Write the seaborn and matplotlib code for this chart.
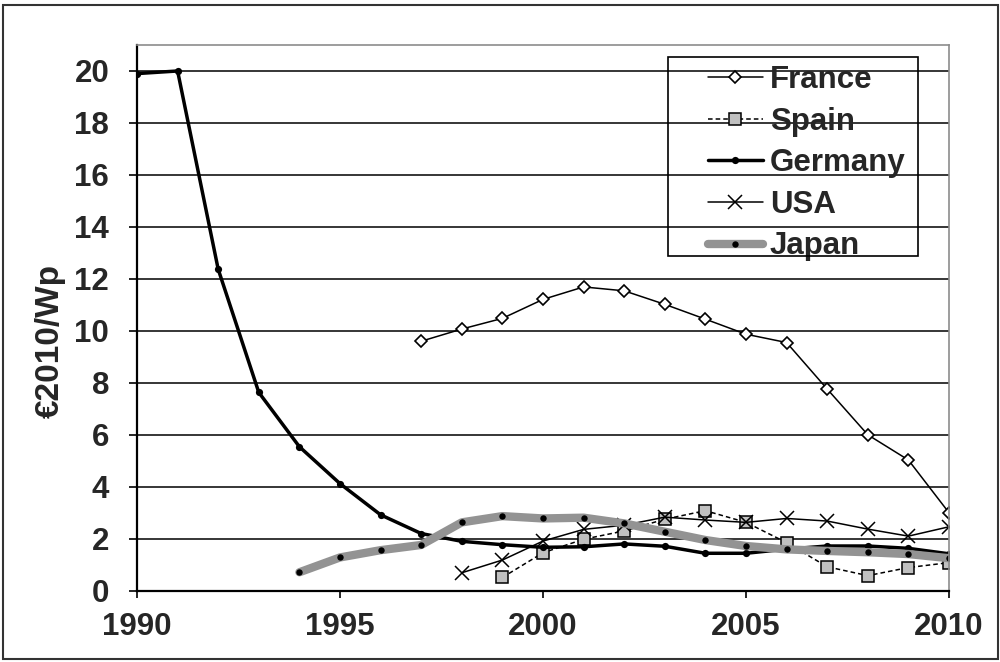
# PV system prices by country, 1990-2010

import seaborn as sns
import pandas as pd
import matplotlib.pyplot as plt
from matplotlib.patches import Rectangle

# data
france_years = [1997, 1998, 1999, 2000, 2001, 2002, 2003, 2004, 2005, 2006, 2007, 2008, 2009, 2010]
france = [9.6, 10.07, 10.48, 11.21, 11.69, 11.54, 11.02, 10.45, 9.87, 9.55, 7.76, 6.0, 5.03, 3.0]

spain_years = [1999, 2000, 2001, 2002, 2003, 2004, 2005, 2006, 2007, 2008, 2009, 2010]
spain = [0.51, 1.46, 1.98, 2.3, 2.75, 3.08, 2.63, 1.85, 0.92, 0.58, 0.89, 1.08]

germany_years = list(range(1990, 2011))
germany = [19.9, 20.0, 12.37, 7.63, 5.54, 4.12, 2.92, 2.2, 1.9, 1.77, 1.67, 1.69, 1.8,
           1.71, 1.44, 1.44, 1.6, 1.72, 1.72, 1.63, 1.42]

usa_years = [1998, 1999, 2000, 2001, 2002, 2003, 2004, 2005, 2006, 2007, 2008, 2009, 2010]
usa = [0.69, 1.18, 1.91, 2.36, 2.52, 2.83, 2.72, 2.63, 2.78, 2.68, 2.37, 2.1, 2.46]

japan_years = list(range(1994, 2011))
japan = [0.71, 1.28, 1.56, 1.76, 2.63, 2.87, 2.78, 2.81, 2.59, 2.27, 1.95, 1.72, 1.59,
         1.53, 1.48, 1.41, 1.25]

sns.set_style("white")
plt.rcParams['font.family'] = ['Liberation Sans', 'DejaVu Sans']
plt.rcParams['font.weight'] = 'bold'

fig = plt.figure(figsize=(10, 6.62), dpi=100)
ax = fig.add_axes([0.137, 1 - 590.7 / 662, 0.812, 545.7 / 662])

# series, in the order the original draws them
sns.lineplot(x=france_years, y=france, ax=ax, color='black', linewidth=1.1,
             marker='D', markersize=6.2, markerfacecolor='white',
             markeredgecolor='black', markeredgewidth=1.2, label='France')
sns.lineplot(x=spain_years, y=spain, ax=ax, color='black', linewidth=1.1,
             linestyle=(0, (3, 2)), marker='s', markersize=8.5,
             markerfacecolor='#c0c0c0', markeredgecolor='black',
             markeredgewidth=1.1, label='Spain')
sns.lineplot(x=germany_years, y=germany, ax=ax, color='black', linewidth=2.5,
             marker='o', markersize=5.2, markeredgewidth=0, label='Germany')
sns.lineplot(x=usa_years, y=usa, ax=ax, color='black', linewidth=1.1,
             marker='x', markersize=9.5, markeredgecolor='black',
             markeredgewidth=1.1, label='USA')
sns.lineplot(x=japan_years, y=japan, ax=ax, color='#939393', linewidth=6,
             marker='o', markersize=4.6, markerfacecolor='black',
             markeredgewidth=0, label='Japan')

ax.set_xlim(1990, 2010)
ax.set_ylim(0, 21)
ax.set_xticks([1990, 1995, 2000, 2005, 2010])
ax.set_yticks(range(0, 21, 2))
ax.yaxis.grid(True, color='black', linewidth=1.1)
ax.set_axisbelow(True)

for side in ['left', 'bottom']:
    ax.spines[side].set_color('black')
    ax.spines[side].set_linewidth(1.6)
for side in ['top', 'right']:
    ax.spines[side].set_color('#8c8c8c')
    ax.spines[side].set_linewidth(1.2)

ax.tick_params(axis='y', direction='out', length=6, width=1.2, color='black',
               pad=14, labelsize=22.5)
ax.tick_params(axis='x', direction='out', length=5, width=1.2, color='black',
               pad=10, labelsize=22.5)
ax.tick_params(left=True, bottom=True)
for lab in ax.get_xticklabels() + ax.get_yticklabels():
    lab.set_fontweight('bold')

ax.set_xlabel('')
ax.set_ylabel('€2010/Wp', fontsize=24, fontweight='bold')
ax.yaxis.set_label_coords(-0.088, 0.458)

# legend, with a separate box around it
handles, labels = ax.get_legend_handles_labels()
leg = ax.legend(handles, labels, loc='upper left', bbox_to_anchor=(0.703, 0.963),
                frameon=False, fontsize=22.5, borderpad=0, borderaxespad=0,
                handlelength=1.76, handletextpad=0.22, labelspacing=0.37)
for t in leg.get_texts():
    t.set_fontweight('bold')
ax.add_patch(Rectangle((668 / 1000, 1 - 256 / 662), 250 / 1000, 199 / 662,
                       transform=fig.transFigure, fill=False, edgecolor='black',
                       linewidth=1.2, zorder=10))

# outer chart border
fig.patches.append(Rectangle((0.003, 1 - 659 / 662), 0.995, 654 / 662,
                             transform=fig.transFigure, fill=False,
                             edgecolor='#333333', linewidth=1.5))

plt.savefig("out.png", dpi=100)
